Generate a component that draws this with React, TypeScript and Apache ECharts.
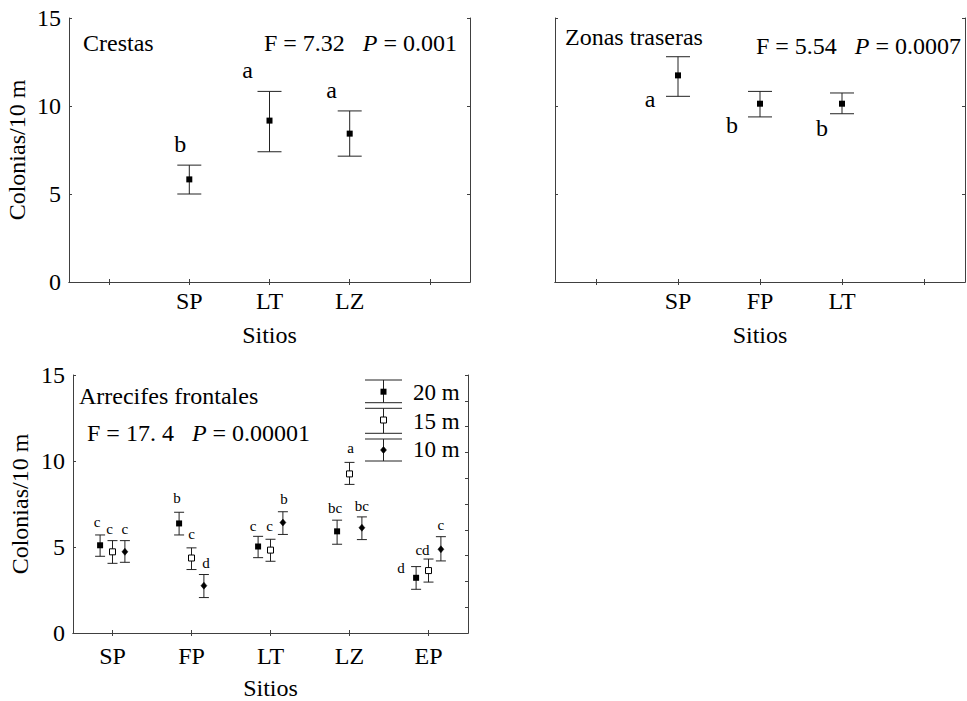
import React, { useEffect, useRef } from "react";
import * as echarts from "echarts";

// ---------- data ----------
const crestasSites = ["SP", "LT", "LZ"];
const crestasMean = [5.83, 9.17, 8.43];
const crestasLow = [5.0, 7.4, 7.15];
const crestasHigh = [6.64, 10.83, 9.72];
const crestasLetters = ["b", "a", "a"];

const zonasSites = ["SP", "FP", "LT"];
const zonasMean = [11.74, 10.13, 10.13];
const zonasLow = [10.55, 9.38, 9.56];
const zonasHigh = [12.8, 10.83, 10.74];
const zonasLetters = ["a", "b", "b"];

const frontalSites = ["SP", "FP", "LT", "LZ", "EP"];
const depthNames = ["20 m", "15 m", "10 m"];
const mean20 = [5.1, 6.37, 5.03, 5.91, 3.21];
const low20 = [4.46, 5.7, 4.38, 5.16, 2.54];
const high20 = [5.7, 7.02, 5.62, 6.56, 3.86];
const letters20 = ["c", "b", "c", "bc", "d"];
const mean15 = [4.72, 4.36, 4.82, 9.25, 3.63];
const low15 = [4.05, 3.69, 4.17, 8.64, 2.96];
const high15 = [5.37, 4.95, 5.45, 9.92, 4.3];
const letters15 = ["c", "c", "c", "a", "cd"];
const mean10 = [4.72, 2.75, 6.42, 6.12, 4.87];
const low10 = [4.11, 2.06, 5.73, 5.43, 4.19];
const high10 = [5.37, 3.4, 7.05, 6.75, 5.6];
const letters10 = ["c", "d", "b", "bc", "c"];

const yMin = 0;
const yMax = 15;
const yStep = 5;
const rightStepFrontal = 1.5;

// ---------- label placement (pixels, not data) ----------
const crestasLetterDx = [-9, -22, -18];
const zonasLetterDx = [-28, -28, -20];
const zonasLetterDy = [3, 8, 14];
const dx20 = [-3, -2, -5, -2, -15];
const dy20 = [-13, -14, -10, -12, 1];
const dx15 = [-3, 0, -1, 1, -6];
const dy15 = [-12, -14, -13, -14, -9];
const dx10 = [0, 2, 1, 0, 0];
const dy10 = [-12, -12, -13, -11, -12];

const FONT_FAMILY = "Liberation Serif";
const INK = "#000";
const BAR = "#222";
const FRAME = "#404040";

function markerShape(kind: string, x: number, y: number, s: number) {
  const h = s / 2;
  if (kind === "diamond") {
    return {
      type: "polygon",
      shape: { points: [[x, y - h - 0.5], [x + h, y], [x, y + h + 0.5], [x - h, y]] },
      style: { fill: INK, stroke: INK, lineWidth: 0.5 },
    };
  }
  if (kind === "open") {
    return {
      type: "rect",
      shape: { x: x - h, y: y - h, width: s, height: s },
      style: { fill: "#fff", stroke: INK, lineWidth: 1 },
    };
  }
  return {
    type: "rect",
    shape: { x: x - h, y: y - h, width: s, height: s },
    style: { fill: INK },
  };
}

function textStyle(text: string, size: number, align: string, extra: any = {}) {
  return {
    text,
    fill: INK,
    fontFamily: FONT_FAMILY,
    fontSize: size,
    align,
    verticalAlign: "middle",
    textAlign: align,
    textVerticalAlign: "middle",
    ...extra,
  };
}

function errorBarRender(cfg: {
  offset: number;
  capHalf: number;
  marker: string;
  markerSize: number;
  letters: string[];
  fontSize: number;
  letterPos: (i: number, cx: number, yH: number, yL: number) => [number, number];
}) {
  return (params: any, api: any) => {
    const i = params.dataIndex;
    const xi = api.value(0);
    const band = api.size([1, 0])[0];
    const pM = api.coord([xi, api.value(1)]);
    const cx = pM[0] + cfg.offset * band;
    const yM = pM[1];
    const yL = api.coord([xi, api.value(2)])[1];
    const yH = api.coord([xi, api.value(3)])[1];
    const ls = { stroke: BAR, lineWidth: 1 };
    const [tx, ty] = cfg.letterPos(i, cx, yH, yL);
    return {
      type: "group",
      children: [
        { type: "line", shape: { x1: cx, y1: yH, x2: cx, y2: yL }, style: ls },
        { type: "line", shape: { x1: cx - cfg.capHalf, y1: yH, x2: cx + cfg.capHalf, y2: yH }, style: ls },
        { type: "line", shape: { x1: cx - cfg.capHalf, y1: yL, x2: cx + cfg.capHalf, y2: yL }, style: ls },
        markerShape(cfg.marker, cx, yM, cfg.markerSize),
        { type: "text", x: tx, y: ty, style: textStyle(cfg.letters[i], cfg.fontSize, "center") },
      ],
    };
  };
}

function makeAxes(
  gridIndex: number,
  cats: string[],
  showYLabels: boolean,
  rightInterval: number,
  labelMargin: number,
  nameGapX: number,
  nameGapY: number
) {
  const txt = { color: INK, fontFamily: FONT_FAMILY, fontSize: 24 };
  const line = { show: true, lineStyle: { color: FRAME, width: 1 } };
  const tick = { show: true, inside: true, length: 3, alignWithLabel: true, lineStyle: { color: FRAME } };
  const xAxes = [
    {
      type: "category",
      gridIndex,
      position: "bottom",
      data: cats,
      boundaryGap: true,
      axisLine: line,
      axisTick: tick,
      axisLabel: { ...txt, interval: 0, margin: labelMargin },
      splitLine: { show: false },
      name: "Sitios",
      nameLocation: "middle",
      nameGap: nameGapX,
      nameTextStyle: txt,
    },
    {
      type: "category",
      gridIndex,
      position: "top",
      data: cats,
      boundaryGap: true,
      axisLine: line,
      axisTick: tick,
      axisLabel: { show: false },
      splitLine: { show: false },
    },
  ];
  const yAxes = [
    {
      type: "value",
      gridIndex,
      position: "left",
      min: yMin,
      max: yMax,
      interval: yStep,
      axisLine: line,
      axisTick: { show: true, inside: true, length: 3, lineStyle: { color: FRAME } },
      axisLabel: { ...txt, show: showYLabels, margin: 8 },
      splitLine: { show: false },
      name: showYLabels ? "Colonias/10 m" : "",
      nameLocation: "middle",
      nameGap: nameGapY,
      nameTextStyle: txt,
    },
    {
      type: "value",
      gridIndex,
      position: "right",
      min: yMin,
      max: yMax,
      interval: rightInterval,
      axisLine: line,
      axisTick: { show: true, inside: true, length: 3, lineStyle: { color: FRAME } },
      axisLabel: { show: false },
      splitLine: { show: false },
    },
  ];
  return { xAxes, yAxes };
}

function richStat(before: string, after: string) {
  return `{n|${before}}{i|P}{n|${after}}`;
}
const richStyles = {
  n: { fontFamily: FONT_FAMILY, fontSize: 24, color: INK },
  i: { fontFamily: FONT_FAMILY, fontSize: 24, fontStyle: "italic", color: INK },
};

export default function App() {
  const ref = useRef<HTMLDivElement>(null);

  useEffect(() => {
    if (!ref.current) return;
    const chart = echarts.init(ref.current, undefined, { renderer: "svg" });

    const a0 = makeAxes(0, ["", ...crestasSites, ""], true, yStep, 7, 41, 40);
    const a1 = makeAxes(1, ["", ...zonasSites, ""], false, yStep, 7, 41, 40);
    const a2 = makeAxes(2, frontalSites, true, rightStepFrontal, 11, 43, 41);

    const crestasData = crestasSites.map((_, i) => [i + 1, crestasMean[i], crestasLow[i], crestasHigh[i]]);
    const zonasData = zonasSites.map((_, i) => [i + 1, zonasMean[i], zonasLow[i], zonasHigh[i]]);
    const d20 = frontalSites.map((_, i) => [i, mean20[i], low20[i], high20[i]]);
    const d15 = frontalSites.map((_, i) => [i, mean15[i], low15[i], high15[i]]);
    const d10 = frontalSites.map((_, i) => [i, mean10[i], low10[i], high10[i]]);

    const depthOffset = 0.157;

    const legendRows = [
      { capTop: 380, capBot: 402.7, marker: 391.7, kind: "filled", text: 392 },
      { capTop: 408.3, capBot: 433.3, marker: 420, kind: "open", text: 421 },
      { capTop: 439, capBot: 461, marker: 450, kind: "diamond", text: 449 },
    ];
    const legendGraphics: any[] = [];
    legendRows.forEach((r, k) => {
      const cx = 383.5;
      const st = { stroke: BAR, lineWidth: 1 };
      legendGraphics.push(
        { type: "line", shape: { x1: cx, y1: r.capTop, x2: cx, y2: r.capBot }, style: st },
        { type: "line", shape: { x1: 365, y1: r.capTop, x2: 402, y2: r.capTop }, style: st },
        { type: "line", shape: { x1: 365, y1: r.capBot, x2: 402, y2: r.capBot }, style: st },
        markerShape(r.kind, cx, r.marker, 6),
        { type: "text", x: 413, y: r.text, style: textStyle(depthNames[k], 23, "left") }
      );
    });

    const txt = (text: string, x: number, y: number, align: string) => ({
      type: "text",
      x,
      y,
      style: textStyle(text, 24, align),
    });
    const rtxt = (text: string, x: number, y: number, align: string) => ({
      type: "text",
      x,
      y,
      style: textStyle(text, 24, align, { rich: richStyles }),
    });

    chart.setOption({
      animation: false,
      backgroundColor: "#fff",
      grid: [
        { left: 69, top: 18, width: 401, height: 264 },
        { left: 555, top: 18, width: 410, height: 264 },
        { left: 73, top: 375, width: 395, height: 262 },
      ],
      xAxis: [...a0.xAxes, ...a1.xAxes, ...a2.xAxes],
      yAxis: [...a0.yAxes, ...a1.yAxes, ...a2.yAxes],
      series: [
        {
          type: "custom",
          name: "Crestas",
          xAxisIndex: 0,
          yAxisIndex: 0,
          data: crestasData,
          encode: { x: 0, y: [1, 2, 3] },
          renderItem: errorBarRender({
            offset: 0,
            capHalf: 12,
            marker: "filled",
            markerSize: 6,
            letters: crestasLetters,
            fontSize: 24,
            letterPos: (i, cx, yH) => [cx + crestasLetterDx[i], yH - 21],
          }),
        },
        {
          type: "custom",
          name: "Zonas traseras",
          xAxisIndex: 2,
          yAxisIndex: 2,
          data: zonasData,
          encode: { x: 0, y: [1, 2, 3] },
          renderItem: errorBarRender({
            offset: 0,
            capHalf: 12,
            marker: "filled",
            markerSize: 6,
            letters: zonasLetters,
            fontSize: 24,
            letterPos: (i, cx, yH, yL) => [cx + zonasLetterDx[i], yL + zonasLetterDy[i]],
          }),
        },
        {
          type: "custom",
          name: depthNames[0],
          xAxisIndex: 4,
          yAxisIndex: 4,
          data: d20,
          encode: { x: 0, y: [1, 2, 3] },
          renderItem: errorBarRender({
            offset: -depthOffset,
            capHalf: 5,
            marker: "filled",
            markerSize: 6,
            letters: letters20,
            fontSize: 15,
            letterPos: (i, cx, yH) => [cx + dx20[i], yH + dy20[i]],
          }),
        },
        {
          type: "custom",
          name: depthNames[1],
          xAxisIndex: 4,
          yAxisIndex: 4,
          data: d15,
          encode: { x: 0, y: [1, 2, 3] },
          renderItem: errorBarRender({
            offset: 0,
            capHalf: 5,
            marker: "open",
            markerSize: 6,
            letters: letters15,
            fontSize: 15,
            letterPos: (i, cx, yH) => [cx + dx15[i], yH + dy15[i]],
          }),
        },
        {
          type: "custom",
          name: depthNames[2],
          xAxisIndex: 4,
          yAxisIndex: 4,
          data: d10,
          encode: { x: 0, y: [1, 2, 3] },
          renderItem: errorBarRender({
            offset: depthOffset,
            capHalf: 5,
            marker: "diamond",
            markerSize: 6,
            letters: letters10,
            fontSize: 15,
            letterPos: (i, cx, yH) => [cx + dx10[i], yH + dy10[i]],
          }),
        },
      ],
      graphic: [
        txt("Crestas", 83, 43, "left"),
        rtxt(richStat("F = 7.32   ", " = 0.001"), 457, 43, "right"),
        txt("Zonas traseras", 565, 37, "left"),
        rtxt(richStat("F = 5.54   ", " = 0.0007"), 961, 46, "right"),
        txt("Arrecifes frontales", 79, 396, "left"),
        rtxt(richStat("F = 17. 4   ", " = 0.00001"), 87, 433, "left"),
        ...legendGraphics,
      ],
    });

    return () => chart.dispose();
  }, []);

  return (
    <div
      ref={ref}
      style={{ position: "fixed", left: 0, top: 0, width: 967, height: 701, background: "#fff" }}
    />
  );
}
